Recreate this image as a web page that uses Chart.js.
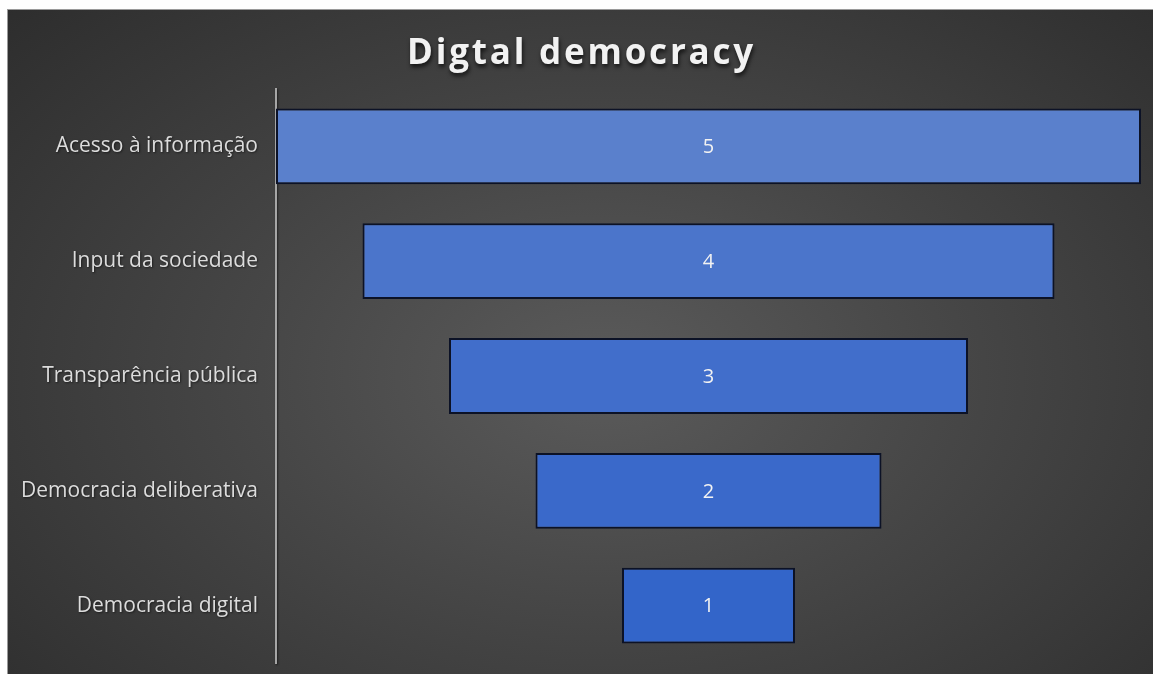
<!DOCTYPE html>
<html>
<head>
<meta charset="utf-8">
<script src="https://cdn.jsdelivr.net/npm/chart.js@4"></script>
<style>
  html, body { margin: 0; padding: 0; background: #ffffff; width: 1153px; height: 674px; overflow: hidden; }
  #frame {
    position: absolute; left: 7px; top: 9px; width: 1146px; height: 665px;
    border-left: 1px solid #9a9a9a; border-top: 1px solid #9a9a9a;
    background: radial-gradient(ellipse 75% 85% at 52% 55%, #5b5b5b 0%, #474747 40%, #2b2b2b 100%);
  }
  #wrap { position: absolute; left: 0; top: 0; width: 1153px; height: 674px; }
</style>
</head>
<body>
<div id="frame"></div>
<div id="wrap"><canvas id="c" width="1153" height="674"></canvas></div>
<script>
const titleText = "Digtal democracy";
const categories = ["Acesso à informação", "Input da sociedade", "Transparência pública", "Democracia deliberativa", "Democracia digital"];
const values = [5, 4, 3, 2, 1];
const barColors = ["#5a80cc", "#4b75cb", "#416ecb", "#3a69ca", "#3365c9"];

const maxVal = Math.max(...values);
const funnelData = values.map(v => [-v / 2, v / 2]);

const valueLabels = {
  id: 'valueLabels',
  afterDatasetsDraw(chart) {
    const ctx = chart.ctx;
    const meta = chart.getDatasetMeta(0);
    ctx.save();
    ctx.font = '20px "Open Sans"';
    ctx.fillStyle = '#f2f2f2';
    ctx.textAlign = 'center';
    ctx.textBaseline = 'middle';
    meta.data.forEach((el, i) => {
      const p = el.getCenterPoint();
      ctx.fillText(String(values[i]), p.x, p.y + 1);
    });
    ctx.restore();
  }
};

const shadowOn = {
  id: 'shadowOn',
  afterInit(chart) {
    const tb = chart.titleBlock;
    if (tb && !tb._wrapped) {
      const orig = tb.draw.bind(tb);
      tb.draw = function () {
        const ctx = chart.ctx;
        ctx.save();
        ctx.translate(11, 0);
        ctx.letterSpacing = '2.8px';
        ctx.shadowColor = 'rgba(0,0,0,0.7)';
        ctx.shadowOffsetX = 1;
        ctx.shadowOffsetY = 3;
        ctx.shadowBlur = 4;
        orig();
        ctx.restore();
      };
      tb._wrapped = true;
    }
  },
  beforeDraw(chart) {
    const ctx = chart.ctx;
    ctx.save();
    ctx.shadowColor = 'rgba(0,0,0,0.5)';
    ctx.shadowOffsetX = 1;
    ctx.shadowOffsetY = 1;
    ctx.shadowBlur = 2;
  },
  beforeDatasetsDraw(chart) {
    chart.ctx.restore();
  }
};

new Chart(document.getElementById('c'), {
  type: 'bar',
  data: {
    labels: categories,
    datasets: [{
      data: funnelData,
      backgroundColor: barColors,
      borderColor: '#0c1226',
      borderWidth: 2,
      borderSkipped: false,
      barPercentage: 0.66,
      categoryPercentage: 1.0
    }]
  },
  plugins: [shadowOn, valueLabels],
  options: {
    indexAxis: 'y',
    responsive: false,
    animation: false,
    devicePixelRatio: 1,
    layout: { padding: { left: 0, right: 12, top: 13, bottom: 11 } },
    plugins: {
      legend: { display: false },
      tooltip: { enabled: false },
      title: {
        display: true,
        text: titleText,
        color: '#f2f2f2',
        font: { family: '"Open Sans"', size: 35, weight: 'bold' },
        padding: { top: 20, bottom: 14 }
      }
    },
    scales: {
      x: {
        display: false,
        min: -maxVal / 2,
        max: maxVal / 2
      },
      y: {
        afterFit(scale) { scale.width = 276; scale.paddingTop = 0; scale.paddingBottom = 0; },
        grid: { display: false, drawTicks: false },
        border: { display: true, color: '#a6a6a6', width: 2 },
        ticks: {
          color: '#dcdcdc',
          font: { family: '"Open Sans"', size: 21 },
          padding: 18
        }
      }
    }
  }
});
</script>
</body>
</html>
